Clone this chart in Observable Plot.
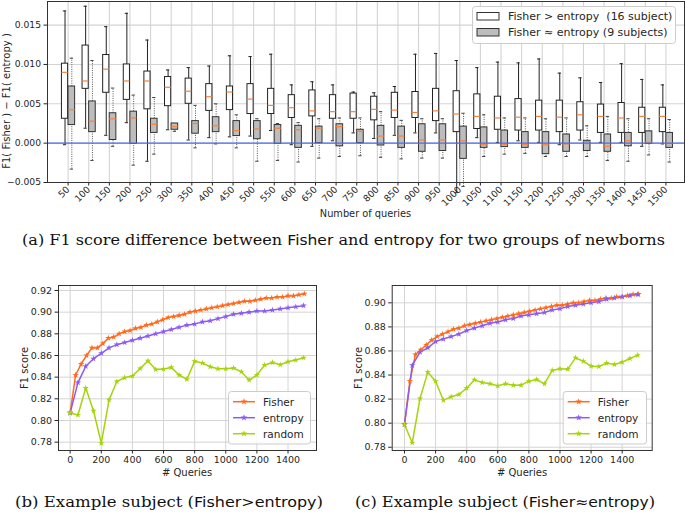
<!DOCTYPE html>
<html><head><meta charset="utf-8">
<script src="https://cdn.jsdelivr.net/npm/d3@7"></script>
<script src="https://cdn.jsdelivr.net/npm/@observablehq/plot@0.6"></script>
<style>
html,body{margin:0;padding:0;background:#fff}
#page{position:relative;width:685px;height:526px;overflow:hidden;font-family:"DejaVu Sans",sans-serif}
.abs{position:absolute}
svg{overflow:visible}
</style></head><body>
<div id="page">
  <div id="top" class="abs" style="left:0;top:0"></div>
  <div id="b" class="abs" style="left:0;top:270px"></div>
  <div id="c" class="abs" style="left:340px;top:270px"></div>
  <svg id="overlay" class="abs" style="left:0;top:0" width="685" height="526"></svg>
</div>
<script>
// ---------- (a) box plot data ----------
const queries = [50,100,150,200,250,300,350,400,450,500,550,600,650,700,750,800,850,900,950,1000,1050,1100,1150,1200,1250,1300,1350,1400,1450,1500];
// Fisher > entropy (16 subject)
const gtHi  = [.0168,.0174,.0148,.0165,.0131,.0093,.0096,.0098,.0111,.0110,.0113,.0074,.0078,.0074,.0065,.0064,.0072,.0113,.0114,.0105,.0096,.0103,.0102,.0107,.0089,.0083,.0077,.0101,.0081,.0074];
const gtQ3  = [.0101,.0124,.0112,.0100,.0091,.0084,.0082,.0075,.0072,.0075,.0069,.0061,.0067,.0061,.0063,.0059,.0064,.0065,.0069,.0066,.0062,.0059,.0056,.0054,.0054,.0052,.0049,.0051,.0045,.0045];
const gtMed = [.0090,.0079,.0094,.0079,.0079,.0071,.0066,.0059,.0065,.0056,.0048,.0045,.0041,.0040,.0040,.0043,.0042,.0039,.0041,.0037,.0034,.0032,.0033,.0034,.0033,.0036,.0034,.0032,.0034,.0034];
const gtQ1  = [.0031,.0069,.0064,.0055,.0043,.0047,.0050,.0041,.0042,.0037,.0037,.0032,.0034,.0031,.0031,.0029,.0032,.0032,.0028,.0014,.0018,.0017,.0016,.0016,.0014,.0016,.0013,.0013,.0013,.0014];
const gtLo  = [-.0002,.0019,.0010,.0026,-.0023,.0017,.0004,.0007,.0008,.0009,.0016,-.0002,-.0004,.0003,.0013,.0006,.0010,.0013,.0013,-.0063,.0007,.0001,.0003,.0001,-.0002,.0004,.0001,.0001,-.0004,-.0001];
// Fisher ≈ entropy (9 subjects)
const eqHi  = [.0108,.0105,.0070,.0061,.0058,.0025,.0048,.0050,.0036,.0031,.0025,.0026,.0031,.0032,.0032,.0040,.0029,.0031,.0031,.0038,.0036,.0032,.0032,.0031,.0032,.0022,.0034,.0031,.0031,.0030];
const eqQ3  = [.0072,.0053,.0038,.0040,.0031,.0025,.0028,.0033,.0028,.0028,.0023,.0022,.0021,.0024,.0017,.0022,.0021,.0024,.0024,.0021,.0020,.0016,.0014,.0014,.0011,.0003,.0011,.0013,.0015,.0013];
const eqMed = [.00425,.0028,.0031,.0032,.0024,.0021,.0025,.0022,.0016,.0018,.0019,.0017,.0019,.0021,.0015,.0009,.0009,.0004,.0004,.0003,-.0002,-.0002,-.0002,-.0002,-.0001,.0002,-.0004,.0003,.0001,.0000];
const eqQ1  = [.0023,.0014,.0004,-.0001,.0013,.0017,.0012,.0014,.0009,.0005,-.0001,-.0006,.0000,-.0004,.0000,-.0003,-.0006,-.0011,-.0010,-.0020,-.0006,-.0005,-.0006,-.0014,-.0011,-.0010,-.0011,-.0004,-.0001,-.0006];
const eqLo  = [-.0033,-.0022,-.0004,-.0028,-.0014,.0015,-.0006,-.0001,-.0006,-.0023,-.0022,-.0024,-.0019,-.0017,-.0016,-.0018,-.0020,-.0019,-.0019,-.0055,-.0017,-.0014,-.0013,-.0017,-.0017,-.0017,-.0022,-.0023,-.0015,-.0024];
const topYTicks = [-0.005, 0, 0.005, 0.010, 0.015];

// ---------- (b) example subject Fisher > entropy ----------
const fisherX = [0,35,70,105,140,175,210,245,280,315,350,385,420,455,490,525,560,595,630,665,700,735,770,805,840,875,910,945,980,1015,1050,1085,1120,1155,1190,1225,1260,1295,1330,1365,1400,1435,1470,1505];
const stepX = [0,50,100,150,200,250,300,350,400,450,500,550,600,650,700,750,800,850,900,950,1000,1050,1100,1150,1200,1250,1300,1350,1400,1450,1500];
const bFisher  = [.807,.842,.852,.860,.867,.867,.871,.876,.877,.880,.882,.883,.885,.886,.888,.889,.891,.893,.895,.896,.897,.898,.900,.901,.902,.903,.904,.905,.906,.907,.908,.909,.910,.910,.911,.912,.913,.913,.914,.914,.915,.915,.916,.917];
const bEntropy = [.807,.835,.850,.857,.862,.867,.870,.872,.874,.876,.878,.880,.882,.884,.886,.888,.889,.891,.892,.894,.896,.898,.899,.900,.901,.901,.902,.903,.904,.905,.906];
const bRandom  = [.807,.805,.830,.809,.779,.819,.836,.8395,.841,.848,.855,.847,.8475,.849,.842,.838,.8546,.853,.8496,.8478,.8478,.8484,.845,.8373,.842,.8512,.8536,.8514,.8542,.8558,.8579];
const bYTicks = [0.78,0.80,0.82,0.84,0.86,0.88,0.90,0.92];

// ---------- (c) example subject Fisher ≈ entropy ----------
const cFisher  = [.799,.835,.857,.861,.865,.869,.872,.874,.876,.878,.879,.881,.882,.883,.884,.885,.886,.887,.888,.889,.890,.891,.892,.893,.894,.895,.896,.897,.898,.898,.899,.900,.900,.901,.902,.902,.903,.904,.904,.905,.905,.906,.907,.907];
const cEntropy = [.799,.848,.859,.8626,.8679,.870,.872,.874,.877,.879,.881,.883,.884,.886,.887,.889,.890,.891,.892,.894,.895,.897,.898,.899,.900,.901,.903,.904,.905,.906,.907];
const cRandom  = [.7989,.7837,.8205,.8424,.8349,.8191,.8219,.8238,.8291,.836,.8338,.8327,.831,.8327,.8316,.8316,.8349,.8363,.8327,.8438,.8452,.8449,.8543,.8515,.8474,.8471,.8499,.8488,.8507,.8537,.8565];
const cYTicks = [0.78,0.80,0.82,0.84,0.86,0.88,0.90];
const lineXTicks = [0,200,400,600,800,1000,1200,1400];

const seriesNames = ["Fisher","entropy","random"];
const seriesColors = ["#ff6a1c","#8c5bf5","#a6d40c"];

// ---------- helpers ----------
const gridColor = "#d4d4d4";
const inkColor = "#262626";

const gt = queries.map((q,i)=>({q, lo:gtLo[i], q1:gtQ1[i], med:gtMed[i], q3:gtQ3[i], hi:gtHi[i]}));
const eq = queries.map((q,i)=>({q, lo:eqLo[i], q1:eqQ1[i], med:eqMed[i], q3:eqQ3[i], hi:eqHi[i]}));
// box geometry in data units (x scale units)
const wL = -15, wR = 0, gL = 1, gR = 17;
const wC = (wL+wR)/2, gC = (gL+gR)/2, capHalf = 4;

const topPlot = Plot.plot({
  width: 685, height: 222,
  marginLeft: 47, marginRight: 1, marginTop: 1, marginBottom: 40,
  style: {fontFamily: "DejaVu Sans, sans-serif", fontSize: "9px", color: inkColor, background: "transparent", overflow: "visible"},
  x: {type: "linear", domain: [0, 1545]},
  y: {domain: [-0.005, 0.018]},
  marks: [
    Plot.gridY(topYTicks, {stroke: gridColor, strokeOpacity: 1, strokeWidth: 1.1}),
    Plot.gridX(queries, {stroke: gridColor, strokeOpacity: 1, strokeWidth: 1.1}),
    Plot.axisY(topYTicks, {tickFormat: d3.format(".3f"), tickSize: 3.5, tickPadding: 3, label: null, fontSize: 9.2}),
    Plot.axisX(queries, {tickFormat: d => String(d), tickRotate: -45, tickSize: 3.5, tickPadding: 2, label: null, fontSize: 9.2}),
    // Fisher > entropy boxes
    Plot.ruleX(gt, {x: d => d.q + wC, y1: "q3", y2: "hi", stroke: "#222", strokeWidth: 1}),
    Plot.ruleX(gt, {x: d => d.q + wC, y1: "lo", y2: "q1", stroke: "#222", strokeWidth: 1}),
    Plot.ruleY(gt, {y: "hi", x1: d => d.q + wC - capHalf, x2: d => d.q + wC + capHalf, stroke: "#222", strokeWidth: 1}),
    Plot.ruleY(gt, {y: "lo", x1: d => d.q + wC - capHalf, x2: d => d.q + wC + capHalf, stroke: "#222", strokeWidth: 1}),
    Plot.rect(gt, {x1: d => d.q + wL, x2: d => d.q + wR, y1: "q1", y2: "q3", fill: "white", stroke: "#222", strokeWidth: 1}),
    Plot.ruleY(gt, {y: "med", x1: d => d.q + wL, x2: d => d.q + wR, stroke: "#f5823a", strokeWidth: 1.2}),
    // Fisher ≈ entropy boxes
    Plot.ruleX(eq, {x: d => d.q + gC, y1: "q3", y2: "hi", stroke: "#555", strokeWidth: 1, strokeDasharray: "1,1.3"}),
    Plot.ruleX(eq, {x: d => d.q + gC, y1: "lo", y2: "q1", stroke: "#555", strokeWidth: 1, strokeDasharray: "1,1.3"}),
    Plot.ruleY(eq, {y: "hi", x1: d => d.q + gC - capHalf, x2: d => d.q + gC + capHalf, stroke: "#444", strokeWidth: 1}),
    Plot.ruleY(eq, {y: "lo", x1: d => d.q + gC - capHalf, x2: d => d.q + gC + capHalf, stroke: "#444", strokeWidth: 1}),
    Plot.rect(eq, {x1: d => d.q + gL, x2: d => d.q + gR, y1: "q1", y2: "q3", fill: "#bdbdbd", stroke: "#333", strokeWidth: 1}),
    Plot.ruleY(eq, {y: "med", x1: d => d.q + gL, x2: d => d.q + gR, stroke: "#f5823a", strokeWidth: 1.2}),
    Plot.ruleY([0], {stroke: "#4a6cf5", strokeWidth: 1.1}),
    Plot.frame({stroke: "#333", strokeWidth: 1})
  ]
});
document.getElementById("top").appendChild(topPlot);

function lineChart(xDomain, yDomain, yTicks, vals, ml, w) {
  const data = [];
  const xs = [fisherX, stepX, stepX];
  vals.forEach((arr, s) => arr.forEach((v, i) => data.push({s: seriesNames[s], x: xs[s][i], y: v})));
  return Plot.plot({
    width: w, height: 212,
    marginLeft: ml, marginRight: 14, marginTop: 15, marginBottom: 32,
    style: {fontFamily: "DejaVu Sans, sans-serif", fontSize: "9.5px", color: inkColor, background: "transparent", overflow: "visible"},
    x: {domain: xDomain},
    y: {domain: yDomain},
    color: {domain: seriesNames, range: seriesColors},
    marks: [
      Plot.gridY(yTicks, {stroke: gridColor, strokeOpacity: 1, strokeWidth: 1}),
      Plot.gridX(lineXTicks, {stroke: gridColor, strokeOpacity: 1, strokeWidth: 1}),
      Plot.axisY(yTicks, {tickFormat: d3.format(".2f"), tickSize: 3.5, tickPadding: 3, label: null, fontSize: 9.5}),
      Plot.axisX(lineXTicks, {tickFormat: d => String(d), tickSize: 3.5, tickPadding: 2, label: null, fontSize: 9.5}),
      Plot.line(data, {x: "x", y: "y", z: "s", stroke: "s", strokeWidth: 1.5}),
      Plot.dot(data, {x: "x", y: "y", fill: "s", symbol: "star", r: 2}),
      Plot.frame({stroke: "#333", strokeWidth: 1})
    ]
  });
}
document.getElementById("b").appendChild(lineChart([-75, 1583], [0.7723, 0.9246], bYTicks, [bFisher, bEntropy, bRandom], 58, 330));
document.getElementById("c").appendChild(lineChart([-79, 1593], [0.7773, 0.9144], cYTicks, [cFisher, cEntropy, cRandom], 51.7, 325.7));

// ---------- overlay: axis titles, legends and captions ----------
const ov = d3.select("#overlay");
function title(x, y, txt, rot, size) {
  ov.append("text").attr("transform", `translate(${x},${y})` + (rot ? " rotate(-90)" : ""))
    .attr("text-anchor", "middle").attr("dominant-baseline", "central")
    .attr("font-family", "DejaVu Sans").attr("font-size", size).attr("fill", inkColor).text(txt);
}
title(6, 101, "F1( Fisher ) \u2212 F1( entropy )", true, 10);
title(365.5, 213, "Number of queries", false, 9.8);
title(24, 368, "F1 score", true, 10);
title(187, 472, "# Queries", false, 10);
title(358.5, 368, "F1 score", true, 10);
title(522, 472, "# Queries", false, 10);

// top legend
const lg = ov.append("g");
lg.append("rect").attr("x", 472.5).attr("y", 6.5).attr("width", 203).attr("height", 37).attr("rx", 3)
  .attr("fill", "white").attr("fill-opacity", 0.85).attr("stroke", "#cccccc");
const topLeg = [["Fisher > entropy  (16 subject)", "white"], ["Fisher \u2248 entropy (9 subjects)", "#bdbdbd"]];
topLeg.forEach(([t, f], i) => {
  const y = 12.5 + i * 16;
  lg.append("rect").attr("x", 477).attr("y", y).attr("width", 22).attr("height", 7.5).attr("fill", f).attr("stroke", "#333");
  lg.append("text").attr("x", 508).attr("y", y + 7.8).attr("font-size", 11).attr("fill", inkColor)
    .attr("font-family", "DejaVu Sans").style("white-space", "pre").text(t);
});
// bottom legends
function lineLegend(x0, x1) {
  const g = ov.append("g");
  g.append("rect").attr("x", x0 + 0.5).attr("y", 391.5).attr("width", x1 - x0).attr("height", 52.5).attr("rx", 3)
    .attr("fill", "white").attr("fill-opacity", 0.85).attr("stroke", "#cccccc");
  seriesNames.forEach((n, i) => {
    const y = 401.7 + i * 16;
    g.append("line").attr("x1", x0 + 5).attr("x2", x0 + 27).attr("y1", y).attr("y2", y).attr("stroke", seriesColors[i]).attr("stroke-width", 1.5);
    g.append("path").attr("d", d3.symbol(d3.symbolStar, 14)()).attr("transform", `translate(${x0 + 16},${y})`).attr("fill", seriesColors[i]);
    g.append("text").attr("x", x0 + 35).attr("y", y + 3.8).attr("font-size", 10.5).attr("fill", inkColor).attr("font-family", "DejaVu Sans").text(n);
  });
}
lineLegend(228, 310);
lineLegend(562.7, 646);

// captions
function caption(x, y, len, parts) {
  const t = ov.append("text").attr("x", x).attr("y", y).attr("font-size", 14).attr("fill", "#111")
    .attr("textLength", len).attr("lengthAdjust", "spacingAndGlyphs").style("white-space", "pre");
  parts.forEach(([s, sans]) => t.append("tspan").attr("font-family", sans ? "DejaVu Sans" : "DejaVu Serif").attr("font-size", sans ? 13.5 : 14).text(s));
}
caption(22, 245, 643, [["(a) F1 score difference between ", false], ["Fisher", true], [" and ", false], ["entropy", true], [" for two groups of newborns", false]]);
caption(15, 507, 308, [["(b) Example subject (", false], ["Fisher>entropy", true], [")", false]]);
caption(355, 507, 300, [["(c) Example subject (", false], ["Fisher\u2248entropy", true], [")", false]]);
</script>
</body></html>
